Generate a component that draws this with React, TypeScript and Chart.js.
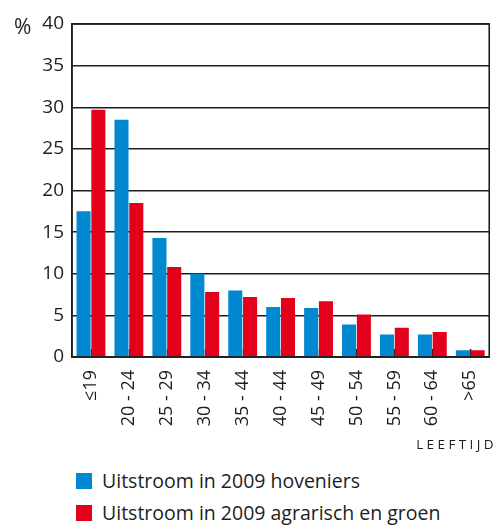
import React, { useEffect, useRef } from 'react';
import { Chart, registerables } from 'chart.js';

Chart.register(...registerables);

const categories = ['≤19', '20 - 24', '25 - 29', '30 - 34', '35 - 44', '40 - 44', '45 - 49', '50 - 54', '55 - 59', '60 - 64', '>65'];
const hoveniers = [17.5, 28.5, 14.3, 10.0, 8.0, 6.0, 5.9, 3.9, 2.7, 2.7, 0.8];
const agrarisch = [29.7, 18.5, 10.8, 7.8, 7.2, 7.1, 6.7, 5.1, 3.5, 3.0, 0.8];
const seriesLabels = ['Uitstroom in 2009 hoveniers', 'Uitstroom in 2009 agrarisch en groen'];
const seriesColors = ['#0088d1', '#e2001a'];
const yMin = 0;
const yMax = 40;
const yStep = 5;

const FONT = "'Open Sans', 'DejaVu Sans', sans-serif";
const INK = '#1e1e1e';

const frame = {
  id: 'frame',
  beforeDatasetsDraw(chart: any) {
    const { ctx, chartArea, scales } = chart;
    const x = scales.x;
    ctx.save();
    ctx.strokeStyle = INK;
    ctx.lineWidth = 1.5;
    for (let i = 0; i < categories.length; i++) {
      const px = Math.round(x.getPixelForValue(i)) + 0.5;
      ctx.beginPath();
      ctx.moveTo(px, chartArea.bottom);
      ctx.lineTo(px, chartArea.bottom - 8);
      ctx.stroke();
    }
    ctx.restore();
  },
  afterDraw(chart: any) {
    const { ctx, chartArea } = chart;
    ctx.save();
    ctx.strokeStyle = INK;
    ctx.lineWidth = 1.6;
    ctx.strokeRect(chartArea.left, chartArea.top, chartArea.right - chartArea.left, chartArea.bottom - chartArea.top);
    ctx.restore();
  },
};

export default function App() {
  const ref = useRef<HTMLCanvasElement | null>(null);

  useEffect(() => {
    if (!ref.current) return;
    const chart = new Chart(ref.current, {
      type: 'bar',
      data: {
        labels: categories,
        datasets: [
          { label: seriesLabels[0], data: hoveniers, backgroundColor: seriesColors[0], borderWidth: 0 },
          { label: seriesLabels[1], data: agrarisch, backgroundColor: seriesColors[1], borderWidth: 0 },
        ],
      },
      options: {
        animation: false,
        responsive: false,
        maintainAspectRatio: false,
        layout: { padding: { top: 24, right: 3, left: 0, bottom: 0 } },
        plugins: { legend: { display: false }, tooltip: { enabled: false } },
        datasets: { bar: { categoryPercentage: 0.78, barPercentage: 0.95 } } as any,
        scales: {
          x: {
            grid: { display: false },
            border: { display: true, color: INK, width: 1.5 },
            ticks: {
              color: INK,
              font: { family: FONT, size: 18 },
              maxRotation: 90,
              minRotation: 90,
              padding: 5,
              autoSkip: false,
            },
            afterFit(scale: any) {
              scale.height = 460 - 357;
            },
          },
          y: {
            min: yMin,
            max: yMax,
            grid: { color: INK, lineWidth: 1.5, drawTicks: false },
            border: { display: true, color: INK, width: 1.5 },
            ticks: {
              stepSize: yStep,
              color: INK,
              font: { family: FONT, size: 19 },
              padding: 8,
            },
            afterFit(scale: any) {
              scale.width = 72;
            },
          },
        },
      },
      plugins: [frame],
    });
    return () => chart.destroy();
  }, []);

  return (
    <div style={{ position: 'fixed', left: 0, top: 0, width: 497, height: 526, background: '#fff', fontFamily: FONT, color: INK }}>
      <canvas ref={ref} width={497} height={460} style={{ position: 'absolute', left: 0, top: 0, width: 497, height: 460 }} />
      <div style={{ position: 'absolute', left: 14, top: 12, fontSize: 21, lineHeight: '28px' }}>%</div>
      <div style={{ position: 'absolute', right: 0, top: 435, fontSize: 13.5, lineHeight: '18px', letterSpacing: 3.4 }}>LEEFTIJD</div>
      {seriesLabels.map((label, i) => (
        <div key={label} style={{ position: 'absolute', left: 76, top: 468 + i * 32, height: 26, display: 'flex', alignItems: 'center', fontSize: 19.5, lineHeight: '26px' }}>
          <span style={{ display: 'inline-block', width: 16, height: 16, background: seriesColors[i], marginRight: 10 }} />
          <span>{label}</span>
        </div>
      ))}
    </div>
  );
}
